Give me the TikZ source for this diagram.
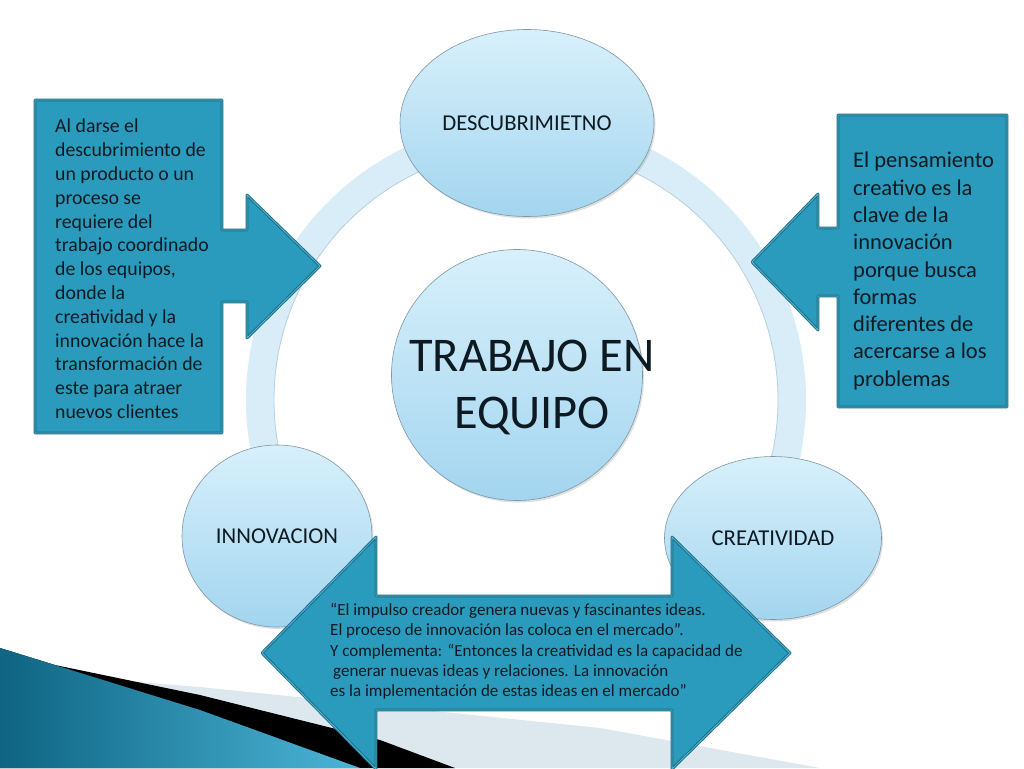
\documentclass[tikz,border=0pt]{standalone}
\usepackage{fontspec}
\setmainfont{Carlito}
\usetikzlibrary{shapes.geometric,positioning,shadows}

\definecolor{anillo}{HTML}{D9EDF8}
\definecolor{anilloborde}{HTML}{B7CFDD}
\definecolor{globoarriba}{HTML}{D8F0FB}
\definecolor{globoabajo}{HTML}{A3D5EF}
\definecolor{globoborde}{HTML}{7D97A5}
\definecolor{notafondo}{HTML}{2A9BBC}
\definecolor{notaborde}{HTML}{1C6E87}
\definecolor{notaluz}{HTML}{55B8D4}
\definecolor{texto}{HTML}{0D1A22}
\definecolor{franja}{HTML}{DCE8EE}
\definecolor{azulosc}{HTML}{0E6482}
\definecolor{azulcla}{HTML}{4CB5D8}

\begin{document}
\begin{tikzpicture}[x=1pt,y=-1pt,
        globo/.style = {
            ellipse,
            draw=globoborde,
            line width=0.6pt,
            top color=globoarriba,
            bottom color=globoabajo,
            drop shadow={shadow xshift=1.5pt, shadow yshift=-2pt, opacity=0.25},
            inner sep=0pt,
            text=texto,
            font=\fontsize{22.7}{27}\selectfont
        },
        nota/.style = {
            fill=notafondo,
            draw=notaborde,
            line width=1pt,
            double=notaluz,
            double distance=0.8pt,
            line join=round
        },
        notatxt/.style = {inner sep=0pt, anchor=north west, align=left, text=texto}]

        \useasboundingbox[fill=white] (0,0) rectangle (1024,768);

        % franjas de la esquina
        \fill[franja] (0,648) -- (100,679) -- (200,687) -- (600,728) -- (820,768) -- (0,768) -- cycle;
        \fill[black] (0,648) -- (55,665) -- (200,695) -- (380,740) -- (455,768) -- (0,768) -- cycle;
        \shade[left color=azulosc, right color=azulcla] (0,648) -- (200,710) -- (360,768) -- (0,768) -- cycle;

        % anillo
        \draw[anillo, line width=28pt] (526,400) circle[radius=266];
        \draw[anilloborde, line width=0.8pt] (526,400) circle[radius=252];

        \node[globo, minimum width=254pt, minimum height=187pt] (descubrimiento) at (527,123) {DESCUBRIMIETNO};
        \node[globo, minimum width=190pt, minimum height=182pt] (innovacion) at (277,536) {INNOVACION};
        \node[globo, minimum width=217pt, minimum height=163pt] (creatividad) at (773,538) {CREATIVIDAD};
        \node[globo, circle, minimum size=251pt] (equipo) at (517,375) {};
        \node[inner sep=0pt, align=center, text=texto, font=\fontsize{48.4}{57}\selectfont] (equipotxt) at (532,387) {TRABAJO EN\\EQUIPO};

        % llamadas
        \draw[nota] (35,100) -- (222,100) -- (222,230) -- (247,230) -- (247,195) -- (320,266)
            -- (247,338) -- (247,302) -- (222,302) -- (222,433) -- (35,433) -- cycle;
        \node[notatxt, font=\fontsize{19.8}{23.8}\selectfont] (notaizq) at (55,119)
            {Al darse el\\descubrimiento de\\un producto o un\\proceso se\\requiere del\\trabajo coordinado\\de los equipos,\\donde la\\creatividad y la\\innovación hace la\\transformación de\\este para atraer\\nuevos clientes};

        \draw[nota] (838,115) -- (1007,115) -- (1007,407) -- (838,407) -- (838,296) -- (818,296)
            -- (818,330) -- (752,262) -- (818,194) -- (818,228) -- (838,228) -- cycle;
        \node[notatxt, font=\fontsize{22.5}{27.3}\selectfont] (notader) at (853,152)
            {El pensamiento\\creativo es la\\clave de la\\innovación\\porque busca\\formas\\diferentes de\\acercarse a los\\problemas};

        \draw[nota] (262,653) -- (376,537) -- (376,596) -- (672,596) -- (672,537) -- (790,653)
            -- (672,769) -- (672,710) -- (376,710) -- (376,769) -- cycle;
        \node[notatxt, font=\fontsize{17}{20.3}\selectfont] (notainf) at (330,603)
            {“El impulso creador genera nuevas y fascinantes ideas.\\El proceso de innovación las coloca en el mercado”.\\Y complementa: “Entonces la creatividad es la capacidad de\\\hspace*{3pt}generar nuevas ideas y relaciones. La innovación\\es la implementación de estas ideas en el mercado”};
    \end{tikzpicture}
\end{document}
